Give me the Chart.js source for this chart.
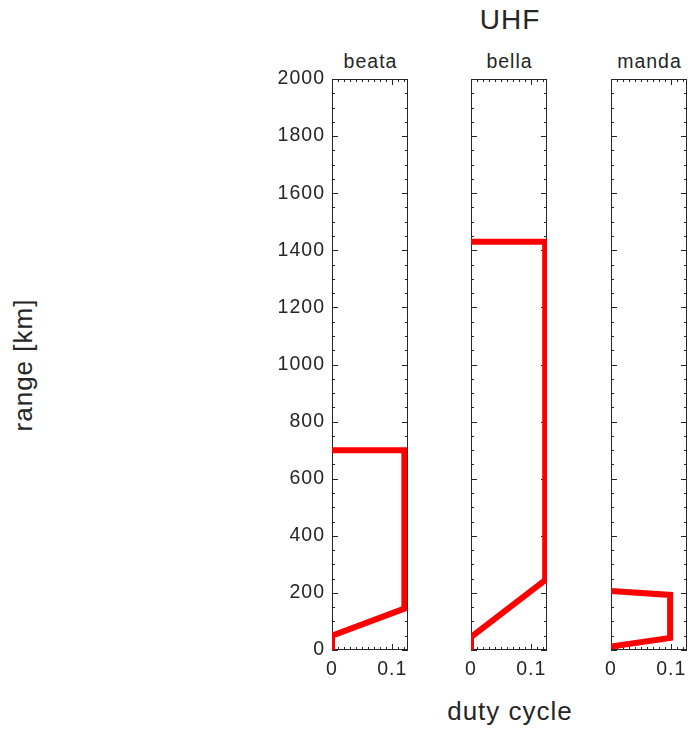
<!DOCTYPE html>
<html>
<head>
<meta charset="utf-8">
<script src="https://cdn.jsdelivr.net/npm/chart.js@4/dist/chart.umd.min.js"></script>
<style>
  html, body { margin: 0; padding: 0; background: #fff; overflow: hidden; }
  body { width: 688px; height: 729px; position: relative; }
  canvas { position: absolute; }
  .lbl { position: absolute; font-family: "Liberation Sans", Arial, sans-serif; color: #262626;
         text-align: center; white-space: nowrap; letter-spacing: 1px; }
</style>
</head>
<body>
<div class="lbl" style="left:410px;top:6px;width:200px;font-size:28px;line-height:28px;">UHF</div>
<div class="lbl" style="left:410px;top:698px;width:200px;font-size:26px;line-height:26px;">duty cycle</div>
<div class="lbl" style="left:-77px;top:352px;width:200px;font-size:26px;line-height:26px;transform:rotate(-90deg);">range [km]</div>
<div class="lbl" id="t0" style="top:52px;width:100px;font-size:19.5px;line-height:19.5px;"></div>
<div class="lbl" id="t1" style="top:52px;width:100px;font-size:19.5px;line-height:19.5px;"></div>
<div class="lbl" id="t2" style="top:52px;width:100px;font-size:19.5px;line-height:19.5px;"></div>

<canvas id="c0" width="170" height="650" style="left:250px;top:60px;"></canvas>
<canvas id="c1" width="108" height="650" style="left:451px;top:60px;"></canvas>
<canvas id="c2" width="97" height="650" style="left:591px;top:60px;"></canvas>

<script>
    // panel titles
    const panelNames = ["beata", "bella", "manda"];

    // duty cycle (x) and range in km (y)
    const beataDuty = [0, 0, 0.12, 0.12, 0];
    const beataRange = [0, 50, 145, 700, 700];
    const bellaDuty = [0, 0, 0.123, 0.123, 0];
    const bellaRange = [0, 45, 245, 1430, 1430];
    const mandaDuty = [0, 0.098, 0.098, 0];
    const mandaRange = [207, 193, 42, 12];

    // axis ticks
    const xTickLabels = [0, 0.1];
    const yTickLabels = [0, 200, 400, 600, 800, 1000, 1200, 1400, 1600, 1800, 2000];
    const xMinorStep = 0.01;
    const yMinorStep = 50;
    const X_MAX = 0.126;
    const Y_MAX = 2000;

    const INK = "#262626";
    const tickFont = { family: "Liberation Sans, Arial, sans-serif", size: 19.5 };

    // box round the axes, with inward ticks on all four sides
    const boxPlugin = {
        id: "box",
        beforeDraw(chart) {
            chart.ctx.letterSpacing = "1px";
        },
        beforeDatasetsDraw(chart) {
            const { ctx, chartArea: a, scales: { x, y } } = chart;
            ctx.save();
            ctx.strokeStyle = INK;
            ctx.lineWidth = 1;
            ctx.strokeRect(a.left + 0.5, a.top + 0.5, a.right - a.left - 1, a.bottom - a.top - 1);
            ctx.beginPath();
            for (let v = 0; v <= Y_MAX + 1e-9; v += yMinorStep) {
                const py = Math.round(y.getPixelForValue(v)) + 0.5;
                const len = yTickLabels.includes(v) ? 6 : 3;
                ctx.moveTo(a.left, py); ctx.lineTo(a.left + len, py);
                ctx.moveTo(a.right, py); ctx.lineTo(a.right - len, py);
            }
            for (let i = 0; i * xMinorStep <= X_MAX + 1e-9; i++) {
                const v = i * xMinorStep;
                const px = Math.round(x.getPixelForValue(v)) + 0.5;
                const len = (i % 10 === 0) ? 6 : 3;
                ctx.moveTo(px, a.bottom); ctx.lineTo(px, a.bottom - len);
                ctx.moveTo(px, a.top); ctx.lineTo(px, a.top + len);
            }
            ctx.stroke();
            ctx.restore();
        }
    };

    function makePanel(idx, duty, range, showY, yAxisWidth, padRight) {
        const canvas = document.getElementById("c" + idx);
        const points = duty.map((d, i) => ({ x: d, y: range[i] }));

        // title centred over the plot area
        const left = parseFloat(canvas.style.left) + yAxisWidth;
        const areaW = canvas.width - yAxisWidth - padRight;
        const t = document.getElementById("t" + idx);
        t.textContent = panelNames[idx];
        t.style.left = (left + areaW / 2 - 50 + 0.5) + "px";

        return new Chart(canvas.getContext("2d"), {
            type: "scatter",
            data: {
                datasets: [{
                    data: points,
                    showLine: true,
                    borderColor: "#ff0000",
                    backgroundColor: "#ff0000",
                    borderWidth: 6,
                    borderJoinStyle: "miter",
                    borderCapStyle: "butt",
                    pointRadius: 0,
                    tension: 0
                }]
            },
            options: {
                responsive: false,
                animation: false,
                layout: { padding: { top: 19, right: padRight, left: 0, bottom: 0 } },
                plugins: { legend: { display: false }, tooltip: { enabled: false } },
                scales: {
                    x: {
                        type: "linear",
                        min: 0,
                        max: X_MAX,
                        afterBuildTicks: s => { s.ticks = xTickLabels.map(v => ({ value: v })); },
                        afterFit: s => {
                            s.height = 60;
                            s.paddingLeft = 0;
                            s.paddingRight = 0;
                        },
                        ticks: {
                            padding: 8, color: INK, font: tickFont,
                            maxRotation: 0, autoSkip: false,
                            callback: v => String(v)
                        },
                        grid: { display: false, drawTicks: false },
                        border: { display: false }
                    },
                    y: {
                        type: "linear",
                        min: 0,
                        max: Y_MAX,
                        afterBuildTicks: s => { s.ticks = yTickLabels.map(v => ({ value: v })); },
                        afterFit: s => {
                            s.width = yAxisWidth;
                            s.paddingTop = 0;
                            s.paddingBottom = 0;
                        },
                        ticks: {
                            display: showY, padding: 7, color: INK, font: tickFont, autoSkip: false,
                            callback: v => String(v)
                        },
                        grid: { display: false, drawTicks: false },
                        border: { display: false }
                    }
                }
            },
            plugins: [boxPlugin]
        });
    }

    makePanel(0, beataDuty, beataRange, true, 82, 12);
    makePanel(1, bellaDuty, bellaRange, false, 20, 12);
    makePanel(2, mandaDuty, mandaRange, false, 20, 1);
</script>
</body>
</html>
